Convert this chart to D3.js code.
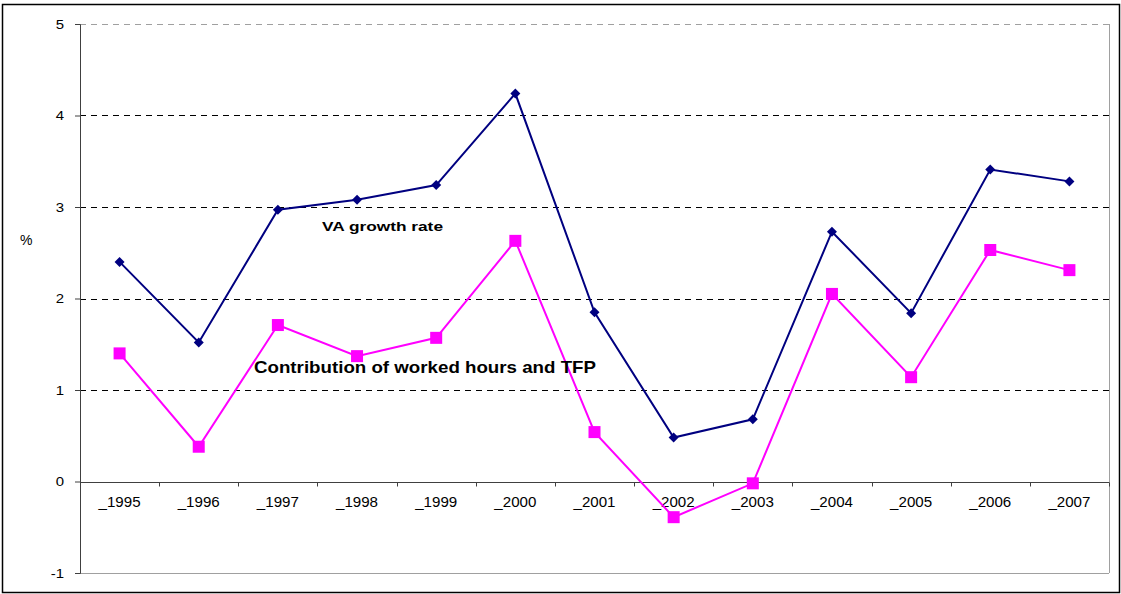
<!DOCTYPE html>
<html>
<head>
<meta charset="utf-8">
<script src="https://cdn.jsdelivr.net/npm/d3@7"></script>
<style>
  body { margin: 0; background: #fff; }
  svg { display: block; font-family: Arial, "Liberation Sans", sans-serif; }
</style>
</head>
<body>
<div id="chart"></div>
<script>
// chart values
var years = ["_1995", "_1996", "_1997", "_1998", "_1999", "_2000", "_2001",
             "_2002", "_2003", "_2004", "_2005", "_2006", "_2007"];
var vaGrowth = [2.40, 1.52, 2.97, 3.08, 3.24, 4.24, 1.85, 0.48, 0.68, 2.73, 1.84, 3.41, 3.28];
var contribution = [1.40, 0.38, 1.71, 1.37, 1.57, 2.63, 0.54, -0.39, -0.02, 2.05, 1.14, 2.53, 2.31];
var yTicks = [-1, 0, 1, 2, 3, 4, 5];

var W = 1121, H = 594;
var margin = {top: 24, right: 12, bottom: 21, left: 80};
var width = W - margin.left - margin.right;
var height = H - margin.top - margin.bottom;

var svg = d3.select("#chart").append("svg")
    .attr("width", W)
    .attr("height", H);

// outer frame
svg.append("rect")
    .attr("x", 2.5).attr("y", 4.5)
    .attr("width", W - 4).attr("height", H - 6)
    .attr("fill", "none")
    .attr("stroke", "#000")
    .attr("stroke-width", 1.5);

var g = svg.append("g")
    .attr("transform", "translate(" + margin.left + "," + margin.top + ")");

var x = d3.scaleBand().domain(years).range([0, width]);
var y = d3.scaleLinear().domain([-1, 5]).range([height, 0]);

// right plot border
g.append("line")
    .attr("x1", width + 0.5).attr("x2", width + 0.5)
    .attr("y1", 0).attr("y2", height)
    .attr("stroke", "#a0a0a0");

// gridlines
g.append("g").selectAll("line")
    .data(yTicks.filter(function(d) { return d !== 0; }))
    .enter().append("line")
    .attr("x1", 0).attr("x2", width)
    .attr("y1", function(d) { return Math.round(y(d)) + 0.5; })
    .attr("y2", function(d) { return Math.round(y(d)) + 0.5; })
    .attr("stroke", function(d) { return (d === 5 || d === -1) ? "#a0a0a0" : "#000"; })
    .attr("stroke-dasharray", function(d) { return d === -1 ? null : "6,5"; });

// y axis
var yAxis = d3.axisLeft(y).tickValues(yTicks).tickSize(5).tickFormat(function(d) { return String(d); });
var ya = g.append("g").call(yAxis);
ya.select(".domain").attr("stroke", "#404040");
ya.selectAll(".tick line").attr("stroke", "#404040");
ya.selectAll("text")
    .attr("font-size", 13)
    .attr("fill", "#000")
    .attr("dx", -7)
    .attr("transform", "scale(1.15,1)")
    .attr("x", -8 / 1.15);

// zero line with category ticks
var z = Math.round(y(0)) + 0.5;
g.append("line")
    .attr("x1", 0).attr("x2", width)
    .attr("y1", z).attr("y2", z)
    .attr("stroke", "#404040");
g.append("g").selectAll("line")
    .data(years)
    .enter().append("line")
    .attr("x1", function(d) { return Math.round(x(d) + x.bandwidth()) + 0.5; })
    .attr("x2", function(d) { return Math.round(x(d) + x.bandwidth()) + 0.5; })
    .attr("y1", z).attr("y2", z + 4)
    .attr("stroke", "#404040");

// category labels
g.append("g").selectAll("text")
    .data(years)
    .enter().append("text")
    .attr("x", function(d) { return x(d) + x.bandwidth() / 2 - 21; })
    .attr("y", z + 24)
    .attr("font-size", 14)
    .attr("textLength", 42)
    .attr("lengthAdjust", "spacingAndGlyphs")
    .text(function(d) { return d; });

var cx = function(d, i) { return x(years[i]) + x.bandwidth() / 2; };
var line = d3.line().x(cx).y(function(d) { return y(d); });

// VA growth rate
g.append("path")
    .datum(vaGrowth)
    .attr("d", line)
    .attr("fill", "none")
    .attr("stroke", "#000080")
    .attr("stroke-width", 2);
g.append("g").selectAll("path")
    .data(vaGrowth)
    .enter().append("path")
    .attr("d", d3.symbol().type(d3.symbolSquare).size(50))
    .attr("transform", function(d, i) { return "translate(" + cx(d, i) + "," + y(d) + ") rotate(45)"; })
    .attr("fill", "#000080");

// contribution series
g.append("path")
    .datum(contribution)
    .attr("d", line)
    .attr("fill", "none")
    .attr("stroke", "#ff00ff")
    .attr("stroke-width", 2);
g.append("g").selectAll("rect")
    .data(contribution)
    .enter().append("rect")
    .attr("x", function(d, i) { return cx(d, i) - 6; })
    .attr("y", function(d) { return y(d) - 6; })
    .attr("width", 12).attr("height", 12)
    .attr("fill", "#ff00ff");

// labels
svg.append("text")
    .attr("x", 322).attr("y", 231)
    .attr("font-size", 13.5).attr("font-weight", "bold")
    .attr("textLength", 121)
    .attr("lengthAdjust", "spacingAndGlyphs")
    .text("VA growth rate");
svg.append("text")
    .attr("x", 254).attr("y", 373)
    .attr("font-size", 16.5).attr("font-weight", "bold")
    .attr("textLength", 342)
    .attr("lengthAdjust", "spacingAndGlyphs")
    .text("Contribution of worked hours and TFP");
svg.append("text")
    .attr("x", 20).attr("y", 245)
    .attr("font-size", 14)
    .text("%");
</script>
</body>
</html>
